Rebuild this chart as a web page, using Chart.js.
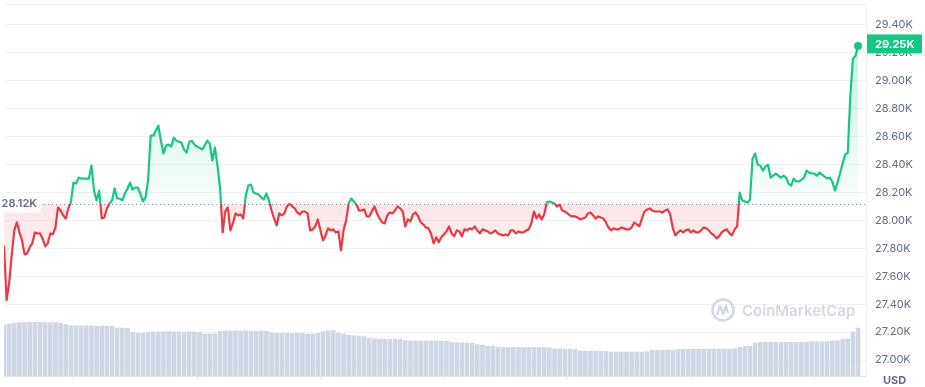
<!DOCTYPE html>
<html>
<head>
<meta charset="utf-8">
<style>
  html, body { margin: 0; padding: 0; background: #fff; }
  #wrap { width: 925px; height: 387px; }
</style>
<script src="https://cdn.jsdelivr.net/npm/chart.js"></script>
</head>
<body>
<div id="wrap"><canvas id="priceChart" width="925" height="387"></canvas></div>
<script>
// BTC / USD, 7 days, one price every 30 minutes
var baseline = 28120;
var priceStepHours = 0.5;
var prices = [
    27821, 27430, 27550, 27750, 27929, 27986, 27914, 27857, 27757, 27764,
    27807, 27836, 27914, 27907, 27907, 27871, 27814, 27836, 27907, 27900,
    27950, 28093, 28071, 28036, 28014, 28086, 28129, 28271, 28264, 28307,
    28300, 28300, 28300, 28300, 28393, 28214, 28143, 28214, 28014, 28021,
    28086, 28121, 28143, 28229, 28157, 28157, 28143, 28193, 28229, 28271,
    28221, 28236, 28236, 28193, 28136, 28164, 28286, 28607, 28607, 28643,
    28679, 28571, 28479, 28536, 28543, 28529, 28593, 28571, 28564, 28557,
    28507, 28486, 28564, 28571, 28543, 28529, 28521, 28507, 28536, 28571,
    28550, 28429, 28521, 28393, 28229, 27914, 28064, 28093, 27929, 27979,
    28050, 28036, 28043, 28014, 28179, 28250, 28257, 28200, 28193, 28186,
    28164, 28150, 28193, 28143, 28071, 28014, 27964, 28050, 28036, 28050,
    28100, 28121, 28100, 28086, 28057, 28043, 28064, 28064, 28050, 27929,
    27936, 27957, 28007, 27929, 27857, 27893, 27943, 27929, 27936, 27914,
    27921, 27786, 27929, 28000, 28121, 28157, 28136, 28114, 28071, 28071,
    28079, 28029, 28029, 28064, 28100, 28050, 28014, 27986, 27979, 28036,
    28057, 28050, 28071, 28100, 28086, 28064, 27957, 28007, 27993, 28043,
    28057, 28029, 27986, 27971, 27950, 27943, 27907, 27836, 27879, 27843,
    27879, 27900, 27921, 27957, 27907, 27886, 27929, 27921, 27886, 27936,
    27929, 27943, 27936, 27957, 27929, 27907, 27936, 27929, 27921, 27907,
    27914, 27929, 27907, 27900, 27893, 27900, 27893, 27929, 27929, 27907,
    27921, 27914, 27914, 27929, 27936, 27979, 28064, 28014, 28043, 28007,
    28043, 28129, 28136, 28129, 28121, 28100, 28114, 28071, 28064, 28050,
    28036, 28029, 28029, 28021, 28007, 28014, 28021, 28050, 28057, 28036,
    28014, 28029, 28021, 28014, 27986, 27950, 27929, 27943, 27936, 27936,
    27950, 27943, 27936, 27936, 27950, 27986, 27971, 27957, 28014, 28064,
    28079, 28086, 28071, 28064, 28064, 28064, 28057, 28071, 28079, 28043,
    27943, 27893, 27914, 27929, 27914, 27929, 27936, 27914, 27929, 27914,
    27914, 27929, 27950, 27943, 27929, 27907, 27893, 27871, 27886, 27914,
    27929, 27936, 27907, 27893, 27936, 27957, 28200, 28143, 28136, 28129,
    28150, 28443, 28479, 28400, 28393, 28357, 28386, 28400, 28307, 28321,
    28336, 28321, 28307, 28321, 28307, 28264, 28250, 28300, 28279, 28279,
    28293, 28307, 28357, 28343, 28336, 28336, 28321, 28343, 28329, 28314,
    28300, 28307, 28279, 28214, 28271, 28336, 28407, 28471, 28486, 28893,
    29157, 29179, 29250
];

// hourly volume, billions USD
var volumes = [
    17.0, 17.3, 17.6, 17.8, 17.8, 17.9, 18.0, 17.9, 17.8, 17.8,
    17.8, 17.6, 17.2, 16.8, 16.7, 16.7, 16.8, 16.7, 16.6, 16.7,
    16.6, 16.6, 16.0, 16.0, 15.9, 14.6, 14.3, 14.3, 14.6, 14.7,
    14.7, 14.7, 14.8, 14.7, 14.7, 14.6, 14.7, 14.7, 14.6, 14.0,
    14.0, 14.1, 14.9, 15.0, 15.0, 15.1, 15.0, 15.0, 15.0, 14.9,
    15.0, 14.9, 14.4, 14.3, 14.3, 14.3, 14.2, 14.3, 14.2, 14.0,
    14.0, 14.2, 14.8, 15.1, 15.2, 14.3, 14.0, 13.6, 13.4, 13.3,
    13.1, 12.6, 12.4, 12.3, 12.3, 12.2, 12.3, 12.2, 11.8, 11.7,
    11.7, 11.7, 11.7, 11.7, 11.7, 11.6, 11.6, 11.2, 11.1, 11.1,
    11.0, 10.9, 10.5, 10.3, 10.0, 10.0, 9.6, 9.5, 9.5, 9.5,
    9.5, 9.5, 9.5, 9.5, 9.5, 9.5, 9.4, 9.1, 9.1, 9.0,
    9.0, 8.9, 8.4, 8.3, 8.3, 8.3, 8.3, 8.2, 8.0, 8.0,
    8.0, 8.0, 8.0, 8.0, 8.0, 8.1, 8.6, 8.6, 8.6, 8.7,
    8.6, 8.8, 8.9, 8.9, 8.9, 8.9, 8.9, 8.9, 9.0, 9.0,
    9.0, 9.0, 9.1, 9.6, 9.8, 9.9, 11.0, 11.2, 11.2, 11.2,
    11.3, 11.2, 11.2, 11.2, 11.2, 11.2, 11.3, 11.4, 11.4, 11.4,
    11.5, 11.7, 11.8, 12.2, 12.4, 14.7, 16.0
];

var yTicks = [27000, 27200, 27400, 27600, 27800, 28000, 28200, 28400, 28600, 28800, 29000, 29200, 29400];
var dayTicks = [1.6, 25.6, 49.6, 73.6, 97.6, 121.6, 145.6];

var GREEN = '#16c784';
var RED = '#ea3943';
var GRID = '#eff2f5';
var LABEL = '#616e85';

Chart.defaults.font.family = 'Inter, "Noto Sans", sans-serif';

function fmtK(v) {
    return (v / 1000).toFixed(2) + 'K';
}

function splitGradient(chart, top, above, below, bottom) {
    var area = chart.chartArea;
    var yPix = chart.scales.y.getPixelForValue(baseline);
    var f = (yPix - area.top) / (area.bottom - area.top);
    f = Math.min(Math.max(f, 0), 1);
    var g = chart.ctx.createLinearGradient(0, area.top, 0, area.bottom);
    g.addColorStop(0, top);
    g.addColorStop(f, above);
    g.addColorStop(f, below);
    g.addColorStop(1, bottom);
    return g;
}

var priceData = prices.map(function (p, i) { return { x: i * priceStepHours, y: p }; });
var volumeData = volumes.map(function (v, i) { return { x: i, y: v }; });
var lastHour = (prices.length - 1) * priceStepHours;

var overlay = {
    id: 'overlay',
    beforeDatasetsDraw: function (chart) {
        var ctx = chart.ctx, area = chart.chartArea;
        var y = Math.round(chart.scales.y.getPixelForValue(baseline)) + 0.5;
        ctx.save();
        ctx.strokeStyle = GRID;
        ctx.lineWidth = 1;
        ctx.beginPath();
        ctx.moveTo(area.left, area.top + 0.5);
        ctx.lineTo(area.right, area.top + 0.5);
        ctx.stroke();

        // watermark
        var wx = area.right - 143, wy = area.bottom - 66;
        ctx.strokeStyle = '#d3d9e4';
        ctx.lineWidth = 2.6;
        ctx.beginPath();
        ctx.arc(wx, wy, 10.5, 0, Math.PI * 2);
        ctx.stroke();
        ctx.lineWidth = 2.4;
        ctx.lineJoin = 'round';
        ctx.beginPath();
        ctx.moveTo(wx - 6, wy + 5);
        ctx.lineTo(wx - 3, wy - 4);
        ctx.lineTo(wx, wy + 4);
        ctx.lineTo(wx + 3, wy - 4);
        ctx.lineTo(wx + 5, wy + 3);
        ctx.stroke();
        ctx.fillStyle = '#d3d9e4';
        ctx.font = '600 15px Inter';
        ctx.textBaseline = 'middle';
        ctx.fillText('CoinMarketCap', wx + 19, wy + 1);

        // dotted baseline
        ctx.strokeStyle = '#8f97a8';
        ctx.lineWidth = 1;
        ctx.setLineDash([1, 3]);
        ctx.beginPath();
        ctx.moveTo(area.left, y);
        ctx.lineTo(area.right, y);
        ctx.stroke();
        ctx.restore();
    },
    afterDatasetsDraw: function (chart) {
        var ctx = chart.ctx, area = chart.chartArea;
        var y = chart.scales.y.getPixelForValue(baseline);
        ctx.save();
        ctx.fillStyle = 'rgba(255,255,255,0.85)';
        ctx.fillRect(area.left, y - 9, 37, 18);
        ctx.fillStyle = LABEL;
        ctx.font = '600 11px Inter';
        ctx.textBaseline = 'middle';
        ctx.textAlign = 'right';
        ctx.fillText(fmtK(baseline), area.left + 33, y);

        // current price tag
        var last = prices[prices.length - 1];
        var py = chart.scales.y.getPixelForValue(last) - 2;
        ctx.fillStyle = GREEN;
        ctx.fillRect(area.right + 1, py - 9.5, 55, 19);
        ctx.fillStyle = '#fff';
        ctx.textAlign = 'left';
        ctx.font = '700 11px Inter';
        ctx.fillText(fmtK(last), area.right + 9, py + 0.5);
        ctx.restore();
    },
    afterDraw: function (chart) {
        var ctx = chart.ctx;
        ctx.save();
        ctx.fillStyle = LABEL;
        ctx.font = '700 11px Inter';
        ctx.textAlign = 'center';
        ctx.textBaseline = 'middle';
        ctx.fillText('USD', chart.chartArea.right + 28.5, chart.height - 6.5);
        ctx.restore();
    }
};

var ctx = document.getElementById('priceChart').getContext('2d');
var priceChart = new Chart(ctx, {
    type: 'line',
    data: {
        datasets: [{
            type: 'line',
            data: priceData,
            yAxisID: 'y',
            borderWidth: 2.2,
            tension: 0,
            borderJoinStyle: 'round',
            borderColor: function (c) {
                if (!c.chart.chartArea) return GREEN;
                return splitGradient(c.chart, GREEN, GREEN, RED, RED);
            },
            backgroundColor: function (c) {
                if (!c.chart.chartArea) return 'transparent';
                return splitGradient(c.chart, 'rgba(22,199,132,0.30)', 'rgba(22,199,132,0.02)',
                    'rgba(234,57,67,0.12)', 'rgba(234,57,67,0)');
            },
            fill: { value: baseline },
            pointRadius: function (c) { return c.dataIndex === prices.length - 1 ? 4 : 0; },
            pointBackgroundColor: GREEN,
            pointBorderColor: GREEN,
            pointBorderWidth: 0
        }, {
            type: 'bar',
            data: volumeData,
            yAxisID: 'yv',
            backgroundColor: '#cfd6e4',
            barThickness: 4
        }]
    },
    options: {
        responsive: false,
        animation: false,
        events: [],
        layout: { padding: { top: 3, left: 0, right: 0, bottom: 0 } },
        plugins: {
            legend: { display: false },
            tooltip: { enabled: false }
        },
        scales: {
            x: {
                type: 'linear',
                min: 0,
                max: lastHour * 866 / 858,
                offset: false,
                grid: { drawOnChartArea: false, color: '#e3e7ec', tickLength: 4 },
                border: { color: '#e3e7ec' },
                ticks: { display: false },
                afterBuildTicks: function (axis) {
                    axis.ticks = dayTicks.map(function (v) { return { value: v }; });
                },
                afterFit: function (axis) {
                    axis.height = 11;
                    axis.paddingLeft = 0;
                    axis.paddingRight = 0;
                }
            },
            y: {
                position: 'right',
                min: 26886,
                max: 29550,
                grid: { color: GRID, drawTicks: false },
                border: { display: true, color: GRID },
                ticks: {
                    padding: 9,
                    color: LABEL,
                    font: { size: 11 },
                    callback: function (v) { return fmtK(v); }
                },
                afterBuildTicks: function (axis) {
                    axis.ticks = yTicks.map(function (v) { return { value: v }; });
                },
                afterFit: function (axis) {
                    axis.width = 59;
                    axis.paddingTop = 0;
                    axis.paddingBottom = 0;
                }
            },
            yv: {
                display: false,
                min: 0,
                max: 124
            }
        }
    },
    plugins: [overlay]
});
</script>
</body>
</html>
